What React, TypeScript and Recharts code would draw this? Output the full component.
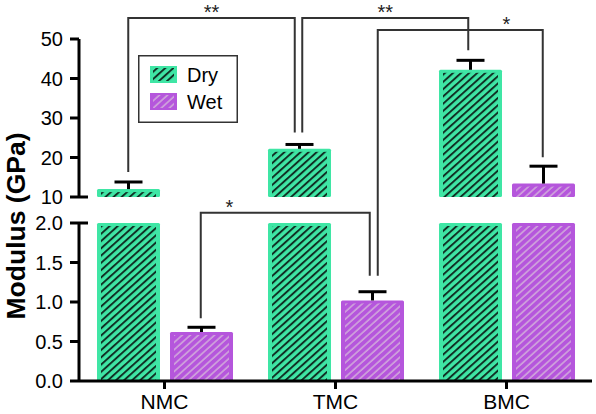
import React from 'react';
import { BarChart, Bar, XAxis, YAxis, Legend } from 'recharts';

// ---------- data ----------
const categories = ['NMC', 'TMC', 'BMC'];
const seriesNames = ['Dry', 'Wet'];
const dryValues = [12.0, 22.2, 42.2];
const dryErrors = [1.8, 1.1, 2.4];
const wetValues = [0.62, 1.02, 13.4];
const wetErrors = [0.06, 0.11, 4.4];
const upperTicks = [10, 20, 30, 40, 50];
const lowerTicks = [0, 0.5, 1.0, 1.5, 2.0];
// significance comparisons: [category, series] pairs and label
const comparisons = [
  { a: [0, 0], b: [1, 0], label: '**' },
  { a: [1, 0], b: [2, 0], label: '**' },
  { a: [1, 1], b: [2, 1], label: '*' },
  { a: [0, 1], b: [1, 1], label: '*' },
];

// ---------- layout / style ----------
const FONT = '"Liberation Sans", Arial, Helvetica, sans-serif';
const DRY = '#3FE6A5';
const WET = '#B556DC';
const DRY_HATCH = '#0E2A20';
const WET_HATCH = '#D0A6DB';
const BREAK_LOW = 2;
const BREAK_HIGH = 10;

const L = {
  left: 79,
  right: 592,
  upperTop: 39,
  upperBottom: 197,
  lowerTop: 223,
  lowerBottom: 381,
  catGap: 18,
  barGap: 10,
};
const UPPER_H = 214;
const bracketLayout = [
  { da: 0, db: -4.5, ga: 10, gb: 12, top: 55.3, star: 0.5 },
  { da: 3, db: -2, ga: 12, gb: 10, top: 55.3, star: 0.5 },
  { da: 6, db: 0, ga: 16, gb: 9, top: 52.3, star: 0.78 },
  { da: 0, db: -2, ga: 9, gb: 16, top: 2.13, star: 0.17 },
];

const upperData = categories.map((c, i) => ({
  category: c,
  dry: dryValues[i] >= BREAK_HIGH ? dryValues[i] : null,
  dryErr: dryErrors[i],
  wet: wetValues[i] >= BREAK_HIGH ? wetValues[i] : null,
  wetErr: wetErrors[i],
}));
const lowerData = categories.map((c, i) => ({
  category: c,
  dry: Math.min(dryValues[i], BREAK_LOW),
  dryErr: dryValues[i] <= BREAK_LOW ? dryErrors[i] : 0,
  wet: Math.min(wetValues[i], BREAK_LOW),
  wetErr: wetValues[i] <= BREAK_LOW ? wetErrors[i] : 0,
}));

// ---------- helpers for annotation overlay ----------
const yUp = (v: number) =>
  L.upperBottom - ((v - 10) / 40) * (L.upperBottom - L.upperTop);
const yLow = (v: number) =>
  L.lowerBottom - (v / 2) * (L.lowerBottom - L.lowerTop);
const yOf = (v: number) => (v >= BREAK_HIGH ? yUp(v) : yLow(v));
const band = (L.right - L.left) / categories.length;
const barW = (band - 2 * L.catGap - L.barGap) / 2;
const xBar = (cat: number, s: number) =>
  L.left + cat * band + L.catGap + s * (barW + L.barGap) + barW / 2;
const errTop = (cat: number, s: number) => {
  const v = s === 0 ? dryValues[cat] : wetValues[cat];
  const e = s === 0 ? dryErrors[cat] : wetErrors[cat];
  return yOf(v + e);
};

// ---------- custom renderers ----------
const makeBarShape = (key: 'dry' | 'wet', base: number) => (props: any) => {
  const { x, y, width, height, payload } = props;
  if (!payload || payload[key] == null || !(height > 0)) return <g />;
  const v = payload[key];
  const err = payload[key + 'Err'] || 0;
  const ppu = height / (v - base);
  const cx = x + width / 2;
  const fill = key === 'dry' ? DRY : WET;
  const pat = key === 'dry' ? 'url(#hatchDry)' : 'url(#hatchWet)';
  const inset = 4;
  const ih = Math.max(0, height - 3);
  return (
    <g>
      <rect x={x} y={y} width={width} height={height} fill={fill} rx={1.5} />
      {ih > 0 && (
        <rect x={x + inset} y={y + 3} width={width - 2 * inset} height={ih} fill={pat} />
      )}
      {err > 0 && (
        <g stroke="#000" strokeWidth={3}>
          <line x1={cx} x2={cx} y1={y} y2={y - err * ppu} />
          <line x1={cx - 14} x2={cx + 14} y1={y - err * ppu} y2={y - err * ppu} />
        </g>
      )}
    </g>
  );
};

const renderYTick = (props: any, breakValue: number, decimals: number) => {
  const { x, y, payload } = props;
  const axisX = x + 9 + 7;
  return (
    <g>
      <text
        x={x}
        y={y}
        dy="0.355em"
        textAnchor="end"
        fontSize={20}
        fontFamily={FONT}
        fill="#000"
      >
        {Number(payload.value).toFixed(decimals)}
      </text>
      {payload.value === breakValue && (
        <line x1={axisX} x2={axisX + 9} y1={y} y2={y} stroke="#000" strokeWidth={3} />
      )}
    </g>
  );
};

const renderLegend = (props: any) => {
  const payload = (props && props.payload) || [];
  return (
    <svg width={100} height={68} style={{ display: 'block' }}>
      <rect x={0.75} y={0.75} width={98.5} height={66.5} fill="#fff" stroke="#333" strokeWidth={1.5} />
      {payload.map((e: any, i: number) => (
        <g key={i}>
          <rect x={12} y={11 + i * 27} width={27} height={17} fill={i === 0 ? DRY : WET} />
          <rect
            x={15}
            y={13 + i * 27}
            width={21}
            height={13}
            fill={i === 0 ? 'url(#hatchDry)' : 'url(#hatchWet)'}
          />
          <text x={49} y={27 + i * 27} fontSize={20} fontFamily={FONT} fill="#000">
            {e.value}
          </text>
        </g>
      ))}
    </svg>
  );
};

const axisStyle = { stroke: '#000', strokeWidth: 3 };

export default function App() {
  return (
    <div style={{ position: 'relative', width: 596, height: 414, background: '#fff' }}>
      <style>{'body{margin:0;}'}</style>
      <svg width={0} height={0} style={{ position: 'absolute' }}>
        <defs>
          <pattern id="hatchDry" width={5.4} height={5.4} patternUnits="userSpaceOnUse" patternTransform="rotate(48)">
            <line x1={1} y1={0} x2={1} y2={5.4} stroke={DRY_HATCH} strokeWidth={1.9} />
          </pattern>
          <pattern id="hatchWet" width={5.4} height={5.4} patternUnits="userSpaceOnUse" patternTransform="rotate(48)">
            <line x1={1} y1={0} x2={1} y2={5.4} stroke={WET_HATCH} strokeWidth={1.6} />
          </pattern>
        </defs>
      </svg>

      {/* lower segment */}
      <div style={{ position: 'absolute', left: 0, top: 200 }}>
        <BarChart
          width={596}
          height={214}
          data={lowerData}
          margin={{ top: L.lowerTop - 200, right: 596 - L.right, bottom: 0, left: 0 }}
          barCategoryGap={L.catGap}
          barGap={L.barGap}
        >
          <XAxis
            dataKey="category"
            height={414 - L.lowerBottom}
            axisLine={axisStyle}
            tickLine={axisStyle}
            tickSize={8}
            tickMargin={5}
            tick={{ fontSize: 21, fill: '#000', fontFamily: FONT }}
          />
          <YAxis
            type="number"
            width={L.left}
            domain={[0, 2]}
            ticks={lowerTicks}
            interval={0}
            allowDataOverflow
            axisLine={axisStyle}
            tickLine={axisStyle}
            tickSize={9}
            tickMargin={7}
            tick={(p: any) => renderYTick(p, 2, 1)}
          />
          <Bar dataKey="dry" name={seriesNames[0]} fill={DRY} shape={makeBarShape('dry', 0)} isAnimationActive={false} />
          <Bar dataKey="wet" name={seriesNames[1]} fill={WET} shape={makeBarShape('wet', 0)} isAnimationActive={false} />
        </BarChart>
      </div>

      {/* upper segment */}
      <div style={{ position: 'absolute', left: 0, top: 0 }}>
        <BarChart
          width={596}
          height={UPPER_H}
          data={upperData}
          margin={{ top: L.upperTop, right: 596 - L.right, bottom: UPPER_H - L.upperBottom, left: 0 }}
          barCategoryGap={L.catGap}
          barGap={L.barGap}
        >
          <XAxis dataKey="category" hide />
          <YAxis
            type="number"
            width={L.left}
            domain={[10, 50]}
            ticks={upperTicks}
            interval={0}
            allowDataOverflow
            axisLine={axisStyle}
            tickLine={axisStyle}
            tickSize={9}
            tickMargin={7}
            tick={(p: any) => renderYTick(p, 10, 0)}
          />
          <Legend
            layout="vertical"
            align="center"
            verticalAlign="middle"
            content={renderLegend}
            wrapperStyle={{ left: 138, top: 55, width: 100, height: 68 }}
          />
          <Bar dataKey="dry" name={seriesNames[0]} fill={DRY} shape={makeBarShape('dry', 10)} isAnimationActive={false} />
          <Bar dataKey="wet" name={seriesNames[1]} fill={WET} shape={makeBarShape('wet', 10)} isAnimationActive={false} />
        </BarChart>
      </div>

      {/* annotations overlay */}
      <svg
        width={596}
        height={414}
        style={{ position: 'absolute', left: 0, top: 0, pointerEvents: 'none' }}
      >
        <text
          transform="translate(25,226) rotate(-90)"
          textAnchor="middle"
          fontSize={26.5}
          fontWeight="bold"
          fontFamily={FONT}
          fill="#000"
        >
          Modulus (GPa)
        </text>
        {comparisons.map((c, i) => {
          const lay = bracketLayout[i];
          const xa = xBar(c.a[0], c.a[1]) + lay.da;
          const xb = xBar(c.b[0], c.b[1]) + lay.db;
          const ya = errTop(c.a[0], c.a[1]) - lay.ga;
          const yb = errTop(c.b[0], c.b[1]) - lay.gb;
          const yt = yOf(lay.top);
          return (
            <g key={i}>
              <polyline
                points={`${xa},${ya} ${xa},${yt} ${xb},${yt} ${xb},${yb}`}
                fill="none"
                stroke="#333"
                strokeWidth={2}
              />
              <text
                x={xa + (xb - xa) * lay.star}
                y={yt + 1}
                textAnchor="middle"
                fontSize={20}
                fontFamily={FONT}
                fill="#222"
              >
                {c.label}
              </text>
            </g>
          );
        })}
      </svg>
    </div>
  );
}
